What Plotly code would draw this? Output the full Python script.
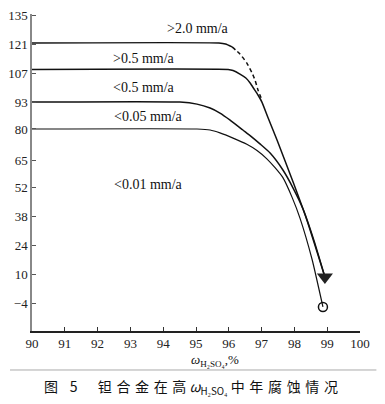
import plotly.graph_objects as go

# ---- data ----
y_ticks = [135, 121, 107, 93, 80, 65, 52, 38, 24, 10, -4]
x_ticks = [90, 91, 92, 93, 94, 95, 96, 97, 98, 99, 100]

gt20_solid_x = [90.0, 95.7, 95.9, 96.1]
gt20_solid_y = [121.5, 121.5, 121.0, 119.6]
gt20_dash_x = [96.10, 96.34, 96.55, 96.71, 96.80, 96.89, 97.01]
gt20_dash_y = [119.6, 116.2, 111.8, 107.0, 103.6, 98.8, 94.0]

gt05_x = [90.0, 95.98, 96.13, 96.34, 96.52, 96.65, 96.77, 96.89, 97.01, 97.20, 97.47, 97.96, 98.38, 98.93]
gt05_y = [108.7, 108.7, 108.2, 106.5, 104.6, 102.2, 99.3, 96.4, 93.0, 85.3, 74.7, 54.4, 36.1, 8.6]

lt05_x = [90.0, 94.51, 95.03, 95.43, 95.73, 96.04, 96.43, 96.65, 96.95, 97.26, 97.65, 97.96, 98.26, 98.60, 98.93]
lt05_y = [93.0, 93.0, 92.0, 90.1, 87.7, 84.3, 79.5, 76.8, 72.8, 68.4, 60.2, 51.5, 41.5, 26.0, 8.6]

lt005_x = [90.0, 95.03, 95.43, 95.73, 96.13, 96.55, 96.86, 97.16, 97.41, 97.65, 97.93, 98.17, 98.54, 98.87]
lt005_y = [80.0, 80.0, 79.5, 78.1, 75.6, 72.6, 69.6, 65.6, 61.3, 56.5, 47.0, 37.0, 17.0, -5.9]

tri_x, tri_y = [98.93], [8.6]
circ_x, circ_y = [98.87], [-5.9]

label_text = ["&gt;2.0 mm/a", "&gt;0.5 mm/a", "&lt;0.5 mm/a", "&lt;0.05 mm/a", "&lt;0.01 mm/a"]
label_x = [95.06, 93.41, 93.41, 93.54, 93.54]
label_y = [128.7, 114.2, 99.8, 85.8, 53.0]

SERIF = "Liberation Serif, Times New Roman, serif"
line_style = dict(color="#111111", width=1.5, shape="spline", smoothing=0.5)

fig = go.Figure()
fig.add_trace(go.Scatter(x=gt20_solid_x, y=gt20_solid_y, mode="lines", line=line_style))
fig.add_trace(go.Scatter(x=gt20_dash_x, y=gt20_dash_y, mode="lines",
                         line=dict(color="#111111", width=1.5, dash="4px,3px", shape="spline", smoothing=0.5)))
fig.add_trace(go.Scatter(x=gt05_x, y=gt05_y, mode="lines", line=line_style))
fig.add_trace(go.Scatter(x=lt05_x, y=lt05_y, mode="lines", line=line_style))
fig.add_trace(go.Scatter(x=lt005_x, y=lt005_y, mode="lines",
                         line=dict(color="#111111", width=1.2, shape="spline", smoothing=0.5)))
fig.add_trace(go.Scatter(x=tri_x, y=tri_y, mode="markers",
                         marker=dict(symbol="triangle-down", size=14, color="#222222")))
fig.add_trace(go.Scatter(x=circ_x, y=circ_y, mode="markers",
                         marker=dict(symbol="circle-open", size=9, color="#111111", line=dict(width=1.5))))

for t, lx, ly in zip(label_text, label_x, label_y):
    fig.add_annotation(x=lx, y=ly, text=t, showarrow=False, xanchor="center", yanchor="middle",
                       font=dict(family=SERIF, size=14, color="#111111"))

fig.add_annotation(xref="paper", yref="paper", x=0.558, y=-0.092, xanchor="center", yanchor="middle",
                   text="<i>ω</i><sub>H₂SO₄</sub>,%", showarrow=False,
                   font=dict(family=SERIF, size=13, color="#111111"))
fig.add_annotation(xref="paper", yref="paper", x=0.485, y=-0.178, xanchor="center", yanchor="middle",
                   text="图\u2002\u20045　  钽\u2004合\u2004金\u2004在\u2004高 <i>ω</i><sub>H₂SO₄</sub> 中\u2004年\u2004腐\u2004蚀\u2004情\u2004况",
                   showarrow=False,
                   font=dict(family="Noto Sans CJK SC", size=14, color="#111111"))
fig.add_shape(type="line", xref="paper", yref="paper", x0=-0.067, x1=1.05, y0=-0.123, y1=-0.123,
              line=dict(color="#aaaaaa", width=1))

# page body has an 8px margin: figure drawn 8px in from the window's corner
fig.update_layout(
    width=369, height=392,
    margin=dict(l=24, r=17, t=6, b=69),
    paper_bgcolor="white", plot_bgcolor="white",
    showlegend=False,
    xaxis=dict(range=[90, 100], tickvals=x_ticks, ticks="inside", ticklen=4, tickcolor="#333333",
               showgrid=False, zeroline=False, showline=True, linecolor="#222222", linewidth=1.5,
               automargin=False, ticklabeloverflow="allow",
               tickfont=dict(family=SERIF, size=13, color="#222222")),
    yaxis=dict(range=[-17.5, 135.5], tickvals=y_ticks, ticks="inside", ticklen=4, tickcolor="#555555",
               showgrid=False, zeroline=False, showline=True, linecolor="#888888", linewidth=1.5,
               automargin=False, ticklabeloverflow="allow",
               tickfont=dict(family=SERIF, size=13, color="#222222")),
)

fig.write_html("out.html")
